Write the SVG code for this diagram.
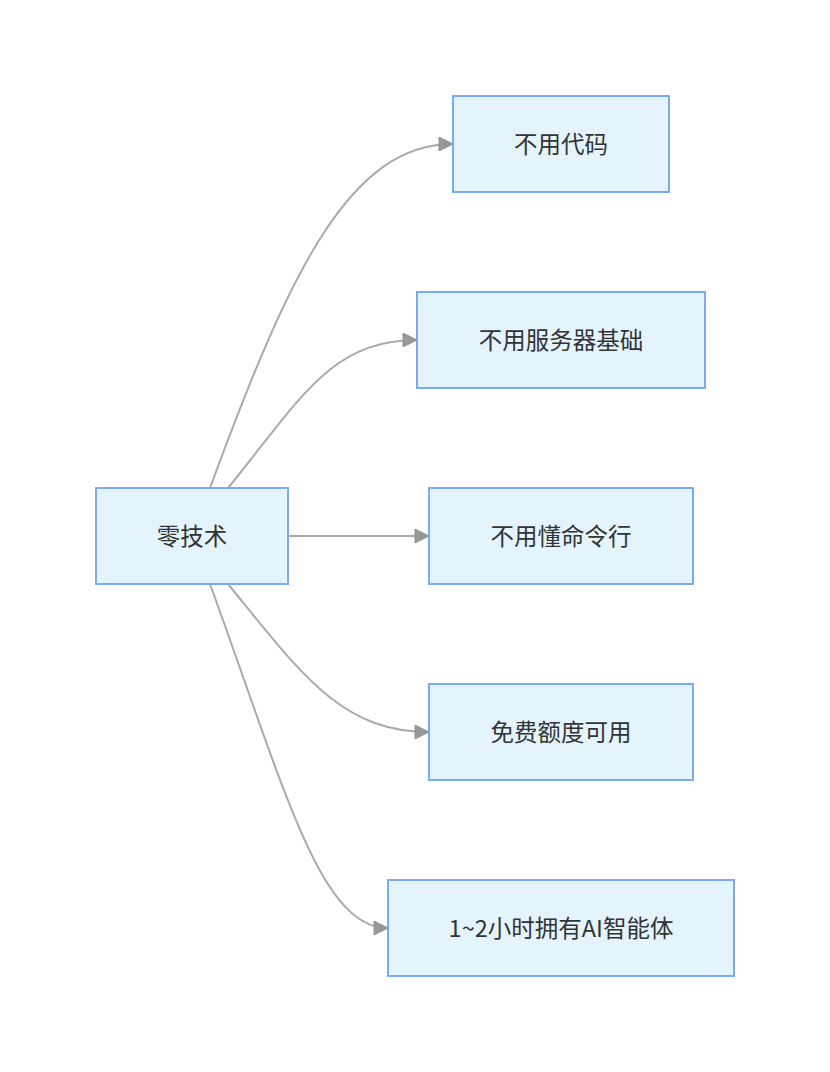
<svg xmlns="http://www.w3.org/2000/svg" width="830" height="1072" viewBox="0 0 830 1072">
<defs>
<style>
.node rect{fill:#e3f4fd;stroke:#7aa9f7;stroke-width:2}
.node text{font-family:"Noto Sans CJK SC","Noto Sans",sans-serif;font-size:23.5px;fill:#333;text-anchor:middle;dominant-baseline:central}
.edge{fill:none;stroke:#aaaaaa;stroke-width:2;marker-end:url(#arr)}
</style>
<marker id="arr" viewBox="0 0 10 10" refX="10" refY="5" markerWidth="16" markerHeight="14" markerUnits="userSpaceOnUse" orient="auto">
<path d="M0,0 L10,5 L0,10 z" fill="#999" stroke="#888" stroke-width="0.6"/>
</marker>
</defs>
<rect width="830" height="1072" fill="#ffffff"/>
<g id="edges">
<path class="edge" d="M210,488 C290,270 350,144 453,144"/>
<path class="edge" d="M228,488 C300,400 330,340 417,340"/>
<path class="edge" d="M288,536 L429,536"/>
<path class="edge" d="M228,584 C300,672 340,732 429,732"/>
<path class="edge" d="M210,584 C285,790 320,928 388,928"/>
</g>
<g id="root" class="node"><rect x="96" y="488" width="192" height="96"/><text x="192" y="534.5">零技术</text></g>
<g id="n1" class="node"><rect x="453" y="96" width="216" height="96"/><text x="561" y="142.5">不用代码</text></g>
<g id="n2" class="node"><rect x="417" y="292" width="288" height="96"/><text x="561" y="338.5">不用服务器基础</text></g>
<g id="n3" class="node"><rect x="429" y="488" width="264" height="96"/><text x="561" y="534.5">不用懂命令行</text></g>
<g id="n4" class="node"><rect x="429" y="684" width="264" height="96"/><text x="561" y="730.5">免费额度可用</text></g>
<g id="n5" class="node"><rect x="388" y="880" width="346" height="96"/><text x="561" y="926.5">1~2小时拥有AI智能体</text></g>
</svg>
